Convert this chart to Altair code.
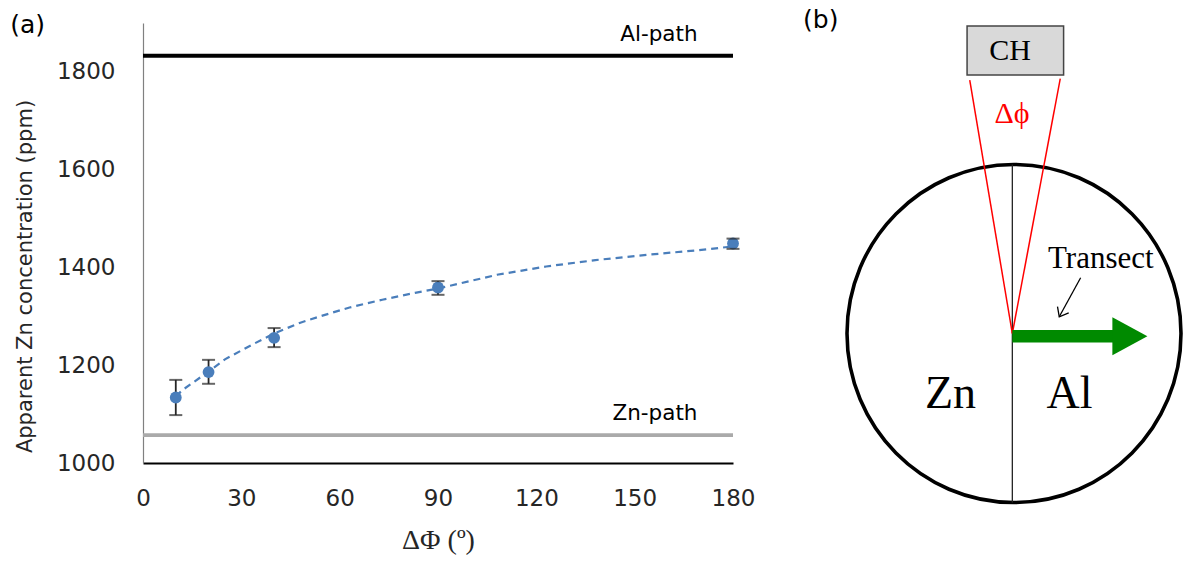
import altair as alt
import pandas as pd

# ---------------- panel (a) data ----------------
dphi = [10, 20, 40, 90, 180]
conc = [1134, 1186, 1256, 1359, 1449]
err_lo = [1098, 1162, 1237, 1344, 1438]
err_hi = [1170, 1211, 1276, 1372, 1459]

trend_x = [10, 12, 20, 25, 33, 40, 48, 55, 63, 73, 83, 90, 94, 108, 123, 138, 154, 169, 180]
trend_y = [1136, 1149, 1187, 1212, 1241, 1265, 1287, 1302, 1318, 1334, 1348, 1357, 1363,
           1385, 1402, 1415, 1426, 1435, 1443]

ref_names = ["Al-path", "Zn-path"]
ref_values = [1833, 1057]
ref_label_x = [157.4, 156.2]
ref_label_y = [1864, 1088]

x_ticks = [0, 30, 60, 90, 120, 150, 180]
y_ticks = [1000, 1200, 1400, 1600, 1800]

panel_a_label = ["(a)"]
panel_a_label_x = [-35.2]
panel_a_label_y = [1896]

# ---------------- panel (b) diagram (units: circle of radius 100 about (0,0)) ----------------
box_x = [-28.1]
box_x2 = [29.7]
box_y = [153.0]
box_y2 = [181.9]

cone_top_x = [-26.5, 27.7]
cone_top_y = [149.9, 150.8]
apex_x = [-1, -1]
apex_y = [0, 0]

divider_x = [-1]
divider_y = [-100]
divider_y2 = [100]

circle_x = [0]
circle_y = [0]

shaft_x = [-1]
shaft_x2 = [60]
shaft_y = [-1.6]
head_x = [69.4]
head_y = [-1.6]

pointer_x = [39.9]
pointer_y = [33.0]
pointer_x2 = [27.1]
pointer_y2 = [9.9]

label_ch = ["CH"]; label_ch_x = [-2.4]; label_ch_y = [167.1]
label_dphi = ["Δϕ"]; label_dphi_x = [-1.2]; label_dphi_y = [129.6]
label_tr = ["Transect"]; label_tr_x = [52]; label_tr_y = [44.1]
label_metal = ["Zn", "Al"]; label_metal_x = [-38, 33.2]; label_metal_y = [-43.9, -43.9]
panel_b_label = ["(b)"]; panel_b_label_x = [-115.7]; panel_b_label_y = [185.5]

SANS = "DejaVu Sans"
SERIF = "Liberation Serif"
BLUE = "#4a7ebb"

# ---------------- panel (a) ----------------
XA_SCALE = alt.Scale(domain=[0, 180], nice=False, zero=False)
YA_SCALE = alt.Scale(domain=[1000, 1900], nice=False, zero=False)

x_axis = alt.Axis(values=x_ticks, title="ΔΦ (º)", grid=False, ticks=False, tickSize=0,
                  domainColor="black", domainWidth=2, labelFont=SANS, labelFontSize=23,
                  labelColor="#262626", labelPadding=24, labelFlush=False, format="d",
                  titleFont=SERIF, titleFontSize=28, titleFontWeight="normal",
                  titleColor="#262626", titlePadding=16)
y_axis = alt.Axis(values=y_ticks, title="Apparent Zn concentration (ppm)", grid=False,
                  ticks=False, tickSize=0, domainColor="#808080", domainWidth=1.2, format="d",
                  labelFont=SANS, labelFontSize=23, labelColor="#262626", labelPadding=28,
                  titleFont=SANS, titleFontSize=21, titleFontWeight="normal",
                  titleColor="#262626", titleX=-118, titleY=253, titleBaseline="middle")


def xa(f):
    return alt.X(f, type="quantitative", scale=XA_SCALE, axis=x_axis)


def ya(f):
    return alt.Y(f, type="quantitative", scale=YA_SCALE, axis=y_axis)


pts = pd.DataFrame({"dphi": dphi, "conc": conc, "lo": err_lo, "hi": err_hi})
trend = pd.DataFrame({"x": trend_x, "y": trend_y})
refs = pd.DataFrame({"name": ref_names, "v": ref_values, "lx": ref_label_x, "ly": ref_label_y,
                     "x0": [0, 0], "x1": [180, 180]})

al_line = alt.Chart(refs[refs["name"] == "Al-path"]).mark_rule(color="black", strokeWidth=3.8).encode(
    x=xa("x0"), x2="x1", y=ya("v"))
zn_line = alt.Chart(refs[refs["name"] == "Zn-path"]).mark_rule(color="#aaaaaa", strokeWidth=3.8).encode(
    x=xa("x0"), x2="x1", y=ya("v"))
ref_text = alt.Chart(refs).mark_text(font=SANS, fontSize=21.5, color="black",
                                     baseline="alphabetic").encode(
    x=xa("lx"), y=ya("ly"), text="name")
trend_line = alt.Chart(trend).mark_line(color=BLUE, strokeWidth=2.2, strokeDash=[7, 5]).encode(
    x=xa("x"), y=ya("y"))
err_rule = alt.Chart(pts).mark_rule(color="#262626", strokeWidth=1.8).encode(
    x=xa("dphi"), y=ya("lo"), y2="hi")
points = alt.Chart(pts).mark_circle(color=BLUE, size=140, opacity=1).encode(
    x=xa("dphi"), y=ya("conc"))
cap_lo = alt.Chart(pts).mark_tick(color="#262626", orient="horizontal", size=13, thickness=2).encode(
    x=xa("dphi"), y=ya("lo"))
cap_hi = alt.Chart(pts).mark_tick(color="#262626", orient="horizontal", size=13, thickness=2).encode(
    x=xa("dphi"), y=ya("hi"))
a_label = alt.Chart(pd.DataFrame({"t": panel_a_label, "x": panel_a_label_x, "y": panel_a_label_y})).mark_text(
    font=SANS, fontSize=25, color="black", baseline="middle").encode(x=xa("x"), y=ya("y"), text="t")

panel_a = alt.layer(al_line, zn_line, ref_text, trend_line, err_rule, points, cap_lo, cap_hi, a_label)

# ---------------- panel (b) ----------------
XB_SCALE = alt.Scale(domain=[-100, 100], range=[704, 1038], nice=False, zero=False)
YB_SCALE = alt.Scale(domain=[-100, 100], range=[479.5, 141.5], nice=False, zero=False)


def xb(f):
    return alt.X(f, type="quantitative", scale=XB_SCALE, axis=None)


def yb(f):
    return alt.Y(f, type="quantitative", scale=YB_SCALE, axis=None)


ELLIPSE = ("M -1 0 C -1 -0.559 -0.552 -1.012 0 -1.012 C 0.552 -1.012 1 -0.559 1 0 "
           "C 1 0.559 0.552 1.012 0 1.012 C -0.552 1.012 -1 0.559 -1 0 Z")
TRIANGLE = "M -1 -1.09 L 1 0 L -1 1.09 Z"
VHEAD = "M -1 -0.8 L 0 0 L -1 0.8"

circle = alt.Chart(pd.DataFrame({"x": circle_x, "y": circle_y})).mark_point(
    shape=ELLIPSE, size=334 * 334, filled=False, color="black", strokeWidth=3.6, opacity=1).encode(
    x=xb("x"), y=yb("y"))
divider = alt.Chart(pd.DataFrame({"x": divider_x, "y": divider_y, "y2": divider_y2})).mark_rule(
    color="#222222", strokeWidth=1.3).encode(x=xb("x"), y=yb("y"), y2="y2")
cone = alt.Chart(pd.DataFrame({"x": cone_top_x, "y": cone_top_y, "x2": apex_x, "y2": apex_y})).mark_rule(
    color="#ff0000", strokeWidth=1.5).encode(x=xb("x"), y=yb("y"), x2="x2", y2="y2")
shaft = alt.Chart(pd.DataFrame({"x": shaft_x, "x2": shaft_x2, "y": shaft_y})).mark_rule(
    color="#008a00", strokeWidth=12.5, strokeCap="butt").encode(x=xb("x"), x2="x2", y=yb("y"))
head = alt.Chart(pd.DataFrame({"x": head_x, "y": head_y})).mark_point(
    shape=TRIANGLE, size=35 * 35, filled=True, color="#008a00", opacity=1).encode(x=xb("x"), y=yb("y"))
box = alt.Chart(pd.DataFrame({"x": box_x, "x2": box_x2, "y": box_y, "y2": box_y2})).mark_rect(
    fill="#d9d9d9", stroke="#444444", strokeWidth=1.5).encode(x=xb("x"), x2="x2", y=yb("y"), y2="y2")
pointer = alt.Chart(pd.DataFrame({"x": pointer_x, "y": pointer_y, "x2": pointer_x2, "y2": pointer_y2})).mark_rule(
    color="black", strokeWidth=1.3).encode(x=xb("x"), y=yb("y"), x2="x2", y2="y2")
pointer_head = alt.Chart(pd.DataFrame({"x": pointer_x2, "y": pointer_y2})).mark_point(
    shape=VHEAD, size=256, filled=False, color="black", strokeWidth=1.3, angle=118.8, opacity=1).encode(
    x=xb("x"), y=yb("y"))


def text_layer(labels, xs, ys, **kw):
    df = pd.DataFrame({"t": labels, "x": xs, "y": ys})
    return alt.Chart(df).mark_text(**kw).encode(x=xb("x"), y=yb("y"), text="t")


t_ch = text_layer(label_ch, label_ch_x, label_ch_y, font=SERIF, fontSize=30, color="black", baseline="middle")
t_dphi = text_layer(label_dphi, label_dphi_x, label_dphi_y, font=SERIF, fontSize=30, color="#ff0000",
                    baseline="middle")
t_tr = text_layer(label_tr, label_tr_x, label_tr_y, font=SERIF, fontSize=31, color="black", baseline="middle")
t_metal = text_layer(label_metal, label_metal_x, label_metal_y, font=SERIF, fontSize=46, color="black",
                     baseline="alphabetic")
t_b = text_layer(panel_b_label, panel_b_label_x, panel_b_label_y, font=SANS, fontSize=25, color="black",
                 baseline="middle")

panel_b = alt.layer(circle, divider, cone, shaft, head, box, pointer, pointer_head,
                    t_ch, t_dphi, t_tr, t_metal, t_b)

chart = alt.layer(panel_a, panel_b).resolve_scale(x="independent", y="independent").properties(
    width=590, height=440,
    autosize=alt.AutoSizeParams(type="none"),
    padding={"left": 143, "top": 23, "right": 456, "bottom": 99},
    background="white",
).configure_view(stroke=None)

chart.save("out.html", embed_options={"renderer": "svg", "actions": False})
